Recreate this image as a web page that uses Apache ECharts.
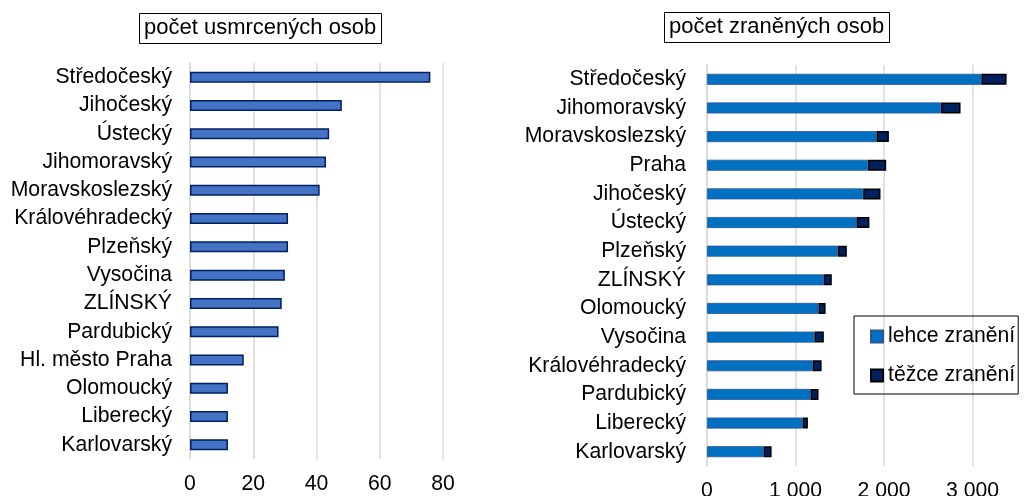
<!DOCTYPE html>
<html>
<head>
<meta charset="utf-8">
<script src="https://cdn.jsdelivr.net/npm/echarts@6/dist/echarts.min.js"></script>
<style>
  html, body { margin: 0; padding: 0; background: #fff; }
  #chart { width: 1029px; height: 496px; }
</style>
</head>
<body>
<div id="chart"></div>
<script>
// levy graf - pocet usmrcenych
var killedRegions = ['Středočeský', 'Jihočeský', 'Ústecký', 'Jihomoravský', 'Moravskoslezský',
	'Královéhradecký', 'Plzeňský', 'Vysočina', 'ZLÍNSKÝ', 'Pardubický', 'Hl. město Praha',
	'Olomoucký', 'Liberecký', 'Karlovarský'];
var killed = [76, 48, 44, 43, 41, 31, 31, 30, 29, 28, 17, 12, 12, 12];
var killedTicks = [0, 20, 40, 60, 80];

// pravy graf - pocet zranenych
var injuredRegions = ['Středočeský', 'Jihomoravský', 'Moravskoslezský', 'Praha', 'Jihočeský',
	'Ústecký', 'Plzeňský', 'ZLÍNSKÝ', 'Olomoucký', 'Vysočina', 'Královéhradecký',
	'Pardubický', 'Liberecký', 'Karlovarský'];
var lightlyInjured = [3100, 2645, 1915, 1820, 1765, 1690, 1480, 1320, 1260, 1215, 1195, 1170, 1080, 640];
var seriouslyInjured = [285, 220, 140, 205, 195, 145, 100, 90, 80, 105, 100, 90, 60, 90];
var injuredTicks = [0, 1000, 2000, 3000];

var FONT = 'Liberation Sans, Arial, sans-serif';
var FS = 21.2;
var gridLine = { lineStyle: { color: '#d9d9d9', width: 1.5 } };

function thousands(v) {
	return String(v).replace(/\B(?=(\d{3})+(?!\d))/g, ' ');
}

var myChart = echarts.init(document.getElementById('chart'));
myChart.setOption({
	animation: false,
	textStyle: { fontFamily: FONT, color: '#000' },
	title: [{
		text: 'počet usmrcených osob',
		left: 139,
		top: 13,
		padding: [4, 5, 5, 5],
		borderColor: '#000',
		borderWidth: 1,
		textStyle: { fontSize: 22, fontWeight: 'normal', color: '#000', fontFamily: FONT }
	}, {
		text: 'počet zraněných osob',
		left: 664,
		top: 12,
		padding: [4, 5, 5, 5],
		borderColor: '#000',
		borderWidth: 1,
		textStyle: { fontSize: 22, fontWeight: 'normal', color: '#000', fontFamily: FONT }
	}],
	legend: {
		orient: 'vertical',
		left: 854,
		top: 316,
		padding: [10, 3, 8, 16],
		itemGap: 18,
		itemWidth: 12,
		itemHeight: 12,
		borderColor: '#000',
		borderWidth: 1,
		textStyle: { fontSize: FS, color: '#000', fontFamily: FONT },
		data: [
			{ name: 'lehce zranění', icon: 'rect' },
			{ name: 'těžce zranění', icon: 'rect' }
		]
	},
	grid: [
		{ left: 190, right: 586, top: 63, bottom: 37, outerBoundsMode: 'none' },
		{ left: 707, right: -32, top: 65, bottom: 30, outerBoundsMode: 'none' }
	],
	xAxis: [{
		gridIndex: 0,
		type: 'value',
		min: killedTicks[0],
		max: killedTicks[killedTicks.length - 1],
		interval: 20,
		axisLine: { show: false },
		axisTick: { show: false },
		splitLine: gridLine,
		axisLabel: { fontSize: FS, color: '#000', margin: 15 }
	}, {
		gridIndex: 1,
		type: 'value',
		min: 0,
		max: 4000,
		interval: 1000,
		axisLine: { show: false },
		axisTick: { show: false },
		splitLine: gridLine,
		axisLabel: {
			fontSize: FS, color: '#000', margin: 15,
			formatter: function (v) { return injuredTicks.indexOf(v) >= 0 ? thousands(v) : ''; }
		}
	}],
	yAxis: [{
		gridIndex: 0,
		type: 'category',
		inverse: true,
		data: killedRegions,
		axisLine: gridLine,
		axisTick: { show: false },
		axisLabel: { fontSize: FS, color: '#000', margin: 18, interval: 0 }
	}, {
		gridIndex: 1,
		type: 'category',
		inverse: true,
		data: injuredRegions,
		axisLine: gridLine,
		axisTick: { show: false },
		axisLabel: { fontSize: FS, color: '#000', margin: 21, interval: 0 }
	}],
	series: [{
		name: 'usmrceno',
		type: 'bar',
		xAxisIndex: 0,
		yAxisIndex: 0,
		barWidth: 11,
		data: killed,
		itemStyle: { color: '#4472c4', borderColor: '#002060', borderWidth: 1.5 }
	}, {
		name: 'lehce zranění',
		type: 'bar',
		stack: 'zraneni',
		xAxisIndex: 1,
		yAxisIndex: 1,
		barWidth: 11,
		data: lightlyInjured,
		itemStyle: { color: '#0070c0', borderColor: '#2f5597', borderWidth: 0.8 }
	}, {
		name: 'těžce zranění',
		type: 'bar',
		stack: 'zraneni',
		xAxisIndex: 1,
		yAxisIndex: 1,
		barWidth: 11,
		data: seriouslyInjured,
		itemStyle: { color: '#002060', borderColor: '#000', borderWidth: 1.5 }
	}]
});
</script>
</body>
</html>
